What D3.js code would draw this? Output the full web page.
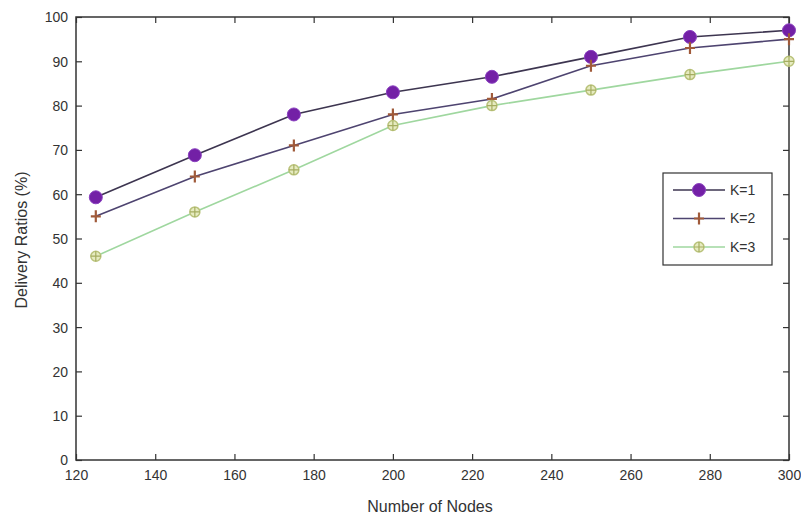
<!DOCTYPE html>
<html><head><meta charset="utf-8">
<script src="https://cdn.jsdelivr.net/npm/d3@7"></script>
<style>body{margin:0;background:#fff}svg{display:block}text{font-family:"Liberation Sans",Arial,sans-serif}</style>
</head><body>
<svg id="c" width="801" height="523"></svg>
<script>
const nodes = [125,150,175,200,225,250,275,300];
const k1 = [59.3,68.8,78,83,86.5,91,95.5,97];
const k2 = [55,64,71,78,81.5,89,93,95];
const k3 = [46,56,65.5,75.5,80,83.5,87,90];
const seriesNames = ["K=1","K=2","K=3"];
const xTicks = [120,140,160,180,200,220,240,260,280,300];
const yTicks = [0,10,20,30,40,50,60,70,80,90,100];

const svg = d3.select("#c");
const L=76,R=789,T=17,B=460;
const x = d3.scaleLinear().domain([120,300]).range([L,R]);
const y = d3.scaleLinear().domain([0,100]).range([B,T]);
const ax="#333";
const g = svg.append("g");
g.append("rect").attr("x",L).attr("y",T).attr("width",R-L).attr("height",B-T).attr("fill","none").attr("stroke",ax).attr("stroke-width",1.5);
// bottom axis
const xb = g.append("g").attr("transform",`translate(0,${B})`).call(d3.axisBottom(x).tickValues(xTicks).tickSize(-6).tickPadding(10));
const xt = g.append("g").attr("transform",`translate(0,${T})`).call(d3.axisTop(x).tickValues(xTicks).tickSize(-6).tickFormat(""));
const yl = g.append("g").attr("transform",`translate(${L},0)`).call(d3.axisLeft(y).tickValues(yTicks).tickSize(-6).tickPadding(8));
const yr = g.append("g").attr("transform",`translate(${R},0)`).call(d3.axisRight(y).tickValues(yTicks).tickSize(-6).tickFormat(""));
[xb,xt,yl,yr].forEach(a=>{a.select(".domain").remove();a.selectAll("line").attr("stroke",ax).attr("stroke-width",1.2);a.selectAll("text").attr("fill","#333").style("font-size","14px");});
yl.selectAll("text").attr("dy","0.35em");

svg.append("text").attr("x",430).attr("y",512).attr("text-anchor","middle").attr("fill","#333").style("font-size","16px").text("Number of Nodes");
svg.append("text").attr("transform","translate(27,240) rotate(-90)").attr("text-anchor","middle").attr("fill","#333").style("font-size","16px").text("Delivery Ratios (%)");

const data=[k1,k2,k3];
const lineCol=["#3d3550","#4e4470","#9fd79f"];
const markCol=["#7320a6","#a05a3a","#b9c27a"];
const line=d3.line().x((d,i)=>x(nodes[i])).y(d=>y(d));
function marker(sel,i,cx,cy){
  if(i===0){sel.append("circle").attr("cx",cx).attr("cy",cy).attr("r",6.5).attr("fill",markCol[0]).attr("stroke","#8a40c0").attr("stroke-width",1);}
  else if(i===1){sel.append("path").attr("d",`M${cx-5},${cy}H${cx+5}M${cx},${cy-6}V${cy+6}`).attr("stroke",markCol[1]).attr("stroke-width",2.2);}
  else{sel.append("circle").attr("cx",cx).attr("cy",cy).attr("r",5).attr("fill","#e6ebc0").attr("stroke",markCol[2]).attr("stroke-width",1.5);
       sel.append("path").attr("d",`M${cx-5},${cy}H${cx+5}M${cx},${cy-5}V${cy+5}`).attr("stroke","#a5ad60").attr("stroke-width",1.2);}
}
data.forEach((s,i)=>{
  svg.append("path").datum(s).attr("d",line).attr("fill","none").attr("stroke",lineCol[i]).attr("stroke-width",1.6);
});
data.forEach((s,i)=>{
  const mg=svg.append("g");
  s.forEach((v,j)=>marker(mg,i,x(nodes[j]),y(v)));
});
// legend
const lg=svg.append("g");
lg.append("rect").attr("x",663).attr("y",173).attr("width",109).attr("height",92).attr("fill","#fff").attr("stroke",ax).attr("stroke-width",1.2);
seriesNames.forEach((n,i)=>{
  const yy=190+i*28.5;
  lg.append("line").attr("x1",673).attr("x2",725).attr("y1",yy).attr("y2",yy).attr("stroke",lineCol[i]).attr("stroke-width",1.6);
  marker(lg,i,699,yy);
  lg.append("text").attr("x",730).attr("y",yy).attr("dy","0.35em").attr("fill","#333").style("font-size","14px").text(n);
});
</script>
</body></html>
